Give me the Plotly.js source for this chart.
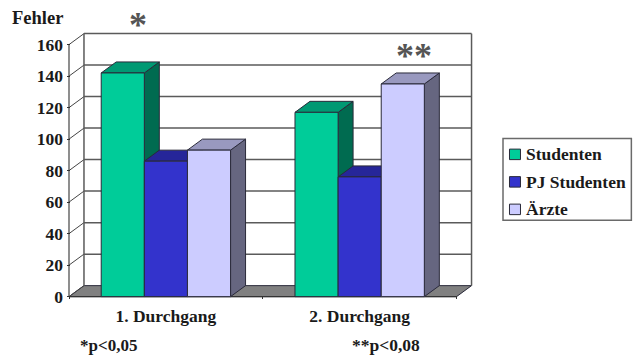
<!DOCTYPE html>
<html>
<head>
<meta charset="utf-8">
<script src="https://cdn.plot.ly/plotly-3.0.1.min.js"></script>
<style>html,body{margin:0;padding:0;background:#fff}#chart{width:633px;height:358px}</style>
</head>
<body>
<div id="chart"></div>
<script>
// Fehlerzahlen je Durchgang und Gruppe
const categories = ['1. Durchgang', '2. Durchgang'];
const seriesNames = ['Studenten', 'PJ Studenten', 'Ärzte'];
const studenten = [142, 117];
const pjStudenten = [86, 76];
const aerzte = [93, 135];
const yTicks = [0, 20, 40, 60, 80, 100, 120, 140, 160];

const seriesValues = [studenten, pjStudenten, aerzte];
const frontColors = ['#00CC99', '#3333CC', '#CCCCFF'];
const topColors = ['#009973', '#262699', '#9999BF'];
const sideColors = ['#006B50', '#1A1A66', '#666680'];

// Perspektive: Tiefe der Säulen und der Rückwand in Achseneinheiten
const pxPerX = 194, pxPerY = 1.575;
const depthX = 15 / pxPerX, depthY = 11 / pxPerY;
const barW = 0.2225;
const xRange = [-2 / pxPerX, 2.09], yRange = [-1.5, 168];

const W = 633, H = 358;
const marginL = 67;
const plotW = (xRange[1] - xRange[0]) * pxPerX;
const plotH = (yRange[1] - yRange[0]) * pxPerY;
const marginB = H - (296.5 + 1.5 * pxPerY);
const marginT = H - marginB - plotH;
const marginR = W - marginL - plotW;
const paperX = px => (px - marginL) / plotW;
const paperY = py => (H - marginB - py) / plotH;

const wallLine = '#5A5A5A', edge = '#2A2A3A';
const shapes = [];
const line = (x0, y0, x1, y1, color, width) => shapes.push({
  type: 'line', layer: 'below', xref: 'x', yref: 'y', x0, y0, x1, y1,
  line: {color, width}
});
const poly = (pts, fill) => shapes.push({
  type: 'path', layer: 'below', xref: 'x', yref: 'y',
  path: 'M' + pts.map(p => p[0] + ',' + p[1]).join('L') + 'Z',
  fillcolor: fill, line: {color: edge, width: 1}
});

// Boden
poly([[0, 0], [2, 0], [2 + depthX, depthY], [depthX, depthY]], '#808080');

// Gitternetz auf Rück- und Seitenwand
yTicks.forEach(v => {
  if (v > 0) line(depthX, v + depthY, 2 + depthX, v + depthY, wallLine, 1.5);
  line(0, v, depthX, v + depthY, '#444444', 1);
});
line(depthX, depthY, depthX, yTicks[8] + depthY, wallLine, 1.5);
line(2 + depthX, depthY, 2 + depthX, yTicks[8] + depthY, wallLine, 1.5);
line(0, 0, 0, yTicks[8], '#444444', 1.2);
line(0, 0, 2, 0, '#333333', 1.2);

// Deck- und Seitenflächen von links nach rechts, die Vorderseiten liegen darüber
const barLeft = (g, s) => g + 0.5 + (s - 1.5) * barW;
categories.forEach((_, g) => {
  seriesValues.forEach((vals, s) => {
    const x0 = barLeft(g, s), x1 = x0 + barW, v = vals[g];
    poly([[x1, 0], [x1 + depthX, depthY], [x1 + depthX, v + depthY], [x1, v]], sideColors[s]);
    poly([[x0, v], [x1, v], [x1 + depthX, v + depthY], [x0 + depthX, v + depthY]], topColors[s]);
  });
});

const traces = seriesValues.map((vals, s) => ({
  type: 'bar',
  name: seriesNames[s],
  x: [0.5, 1.5],
  y: vals,
  marker: {color: frontColors[s], line: {color: edge, width: 1}},
  hoverinfo: 'x+y+name'
}));

// Legende
const serif = 'Liberation Serif, serif';
const annotations = [];
const text = (str, px, py, size, anchor, color, family, weight) => annotations.push({
  text: str, xref: 'paper', yref: 'paper', x: paperX(px), y: paperY(py),
  xanchor: anchor, yanchor: 'middle', showarrow: false,
  font: {family: family || serif, size, color: color || '#1A1A1A', weight: weight === undefined ? 700 : weight}
});
shapes.push({
  type: 'rect', layer: 'above', xref: 'paper', yref: 'paper',
  x0: paperX(503.5), x1: paperX(632), y0: paperY(138.5), y1: paperY(220),
  fillcolor: '#FFFFFF', line: {color: '#6A6A6A', width: 1.5}
});
const legendRows = [154, 181.5, 209];
seriesNames.forEach((name, s) => {
  const y = legendRows[s];
  shapes.push({
    type: 'rect', layer: 'above', xref: 'paper', yref: 'paper',
    x0: paperX(510), x1: paperX(521), y0: paperY(y - 5), y1: paperY(y + 5.5),
    fillcolor: frontColors[s], line: {color: '#2A2A3A', width: 1}
  });
  text(name, 525, y, 17.5, 'left');
});

// Beschriftungen
text('Fehler', 10, 18, 18.5, 'left');
text('*', 138, 25, 36, 'center', '#555555');
text('*', 405, 56, 36, 'center', '#555555');
text('*', 423, 56, 36, 'center', '#555555');
text('*p&lt;0,05', 78, 345, 17, 'left');
text('**p&lt;0,08', 350, 345, 17.5, 'left');

const layout = {
  width: W, height: H,
  margin: {l: marginL, r: marginR, t: marginT, b: marginB, pad: 0},
  paper_bgcolor: '#FFFFFF', plot_bgcolor: '#FFFFFF',
  showlegend: false,
  barmode: 'group', bargap: 1 - 3 * barW, bargroupgap: 0,
  xaxis: {
    range: xRange, showgrid: false, zeroline: false, showline: false,
    tickmode: 'array', tickvals: [0.5, 1.5], ticktext: categories,
    ticks: '', ticklabelstandoff: 4,
    tickfont: {family: serif, size: 17.5, color: '#1A1A1A', weight: 700},
    minor: {tickmode: 'array', tickvals: [0, 1, 2], ticks: 'inside', ticklen: 3, tickwidth: 1, tickcolor: '#333333', showgrid: false}
  },
  yaxis: {
    range: yRange, showgrid: false, zeroline: false, showline: false,
    tickmode: 'array', tickvals: yTicks,
    ticks: 'inside', ticklen: 3, tickwidth: 1, tickcolor: '#333333',
    ticklabelstandoff: 3,
    tickfont: {family: serif, size: 17.5, color: '#1A1A1A', weight: 700}
  },
  shapes, annotations
};

Plotly.newPlot('chart', traces, layout, {displayModeBar: false, staticPlot: true});
</script>
</body>
</html>
